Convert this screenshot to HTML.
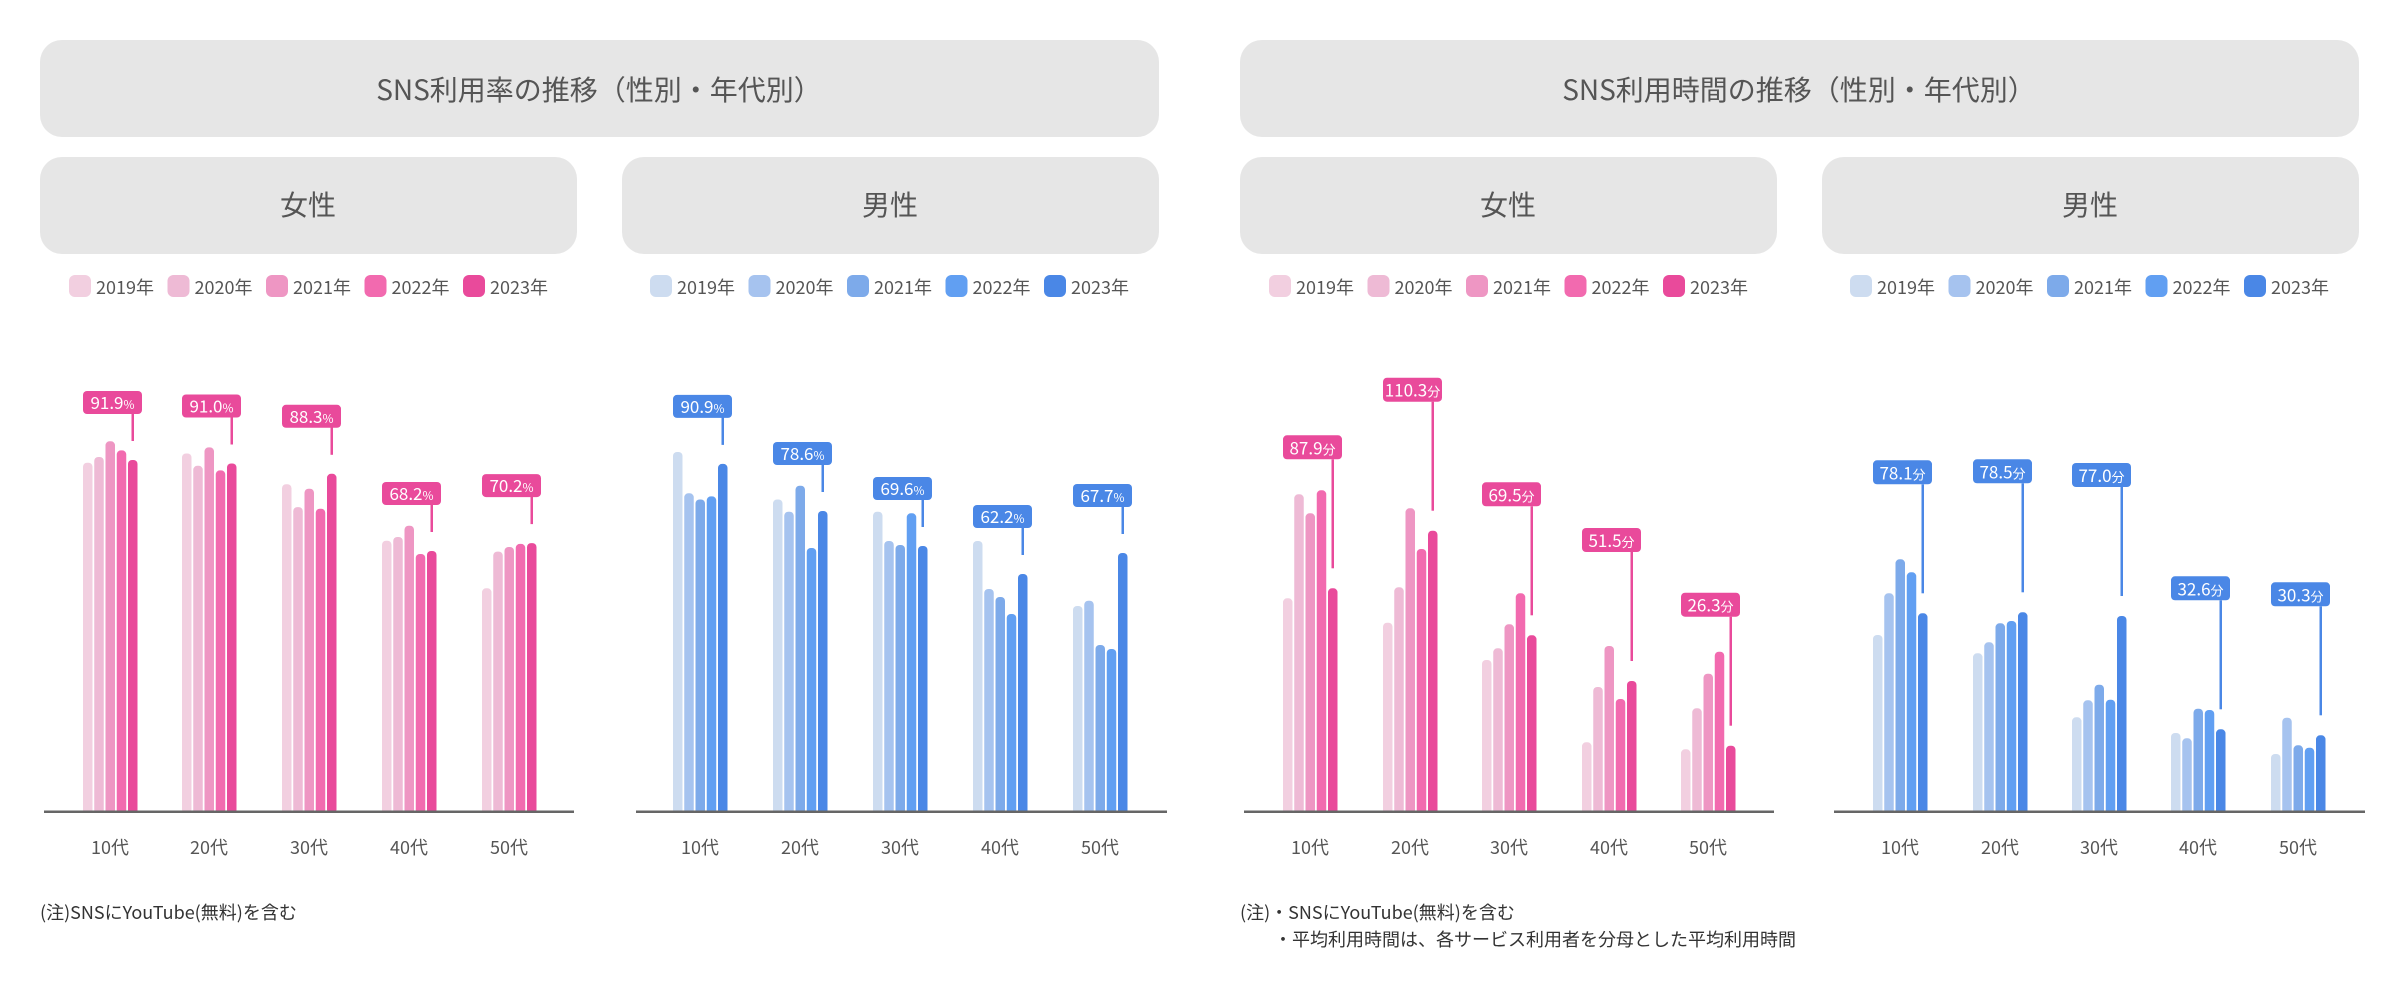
<!DOCTYPE html>
<html><head><meta charset="utf-8"><style>
html,body{margin:0;padding:0;background:#fff;width:2400px;height:1000px;overflow:hidden}
svg{display:block;font-family:"Noto Sans CJK JP","Liberation Sans",sans-serif}
</style></head><body>
<svg width="2400" height="1000" viewBox="0 0 2400 1000" xmlns="http://www.w3.org/2000/svg">
<g fill="#e6e6e6">
<rect x="40" y="40" width="1119" height="97" rx="22"/>
<rect x="1240" y="40" width="1119" height="97" rx="22"/>
<rect x="40" y="157" width="537" height="97" rx="22"/>
<rect x="622" y="157" width="537" height="97" rx="22"/>
<rect x="1240" y="157" width="537" height="97" rx="22"/>
<rect x="1822" y="157" width="537" height="97" rx="22"/>
</g>
<g fill="#555" font-size="28" text-anchor="middle">
<text x="599" y="100">SNS利用率の推移（性別・年代別）</text>
<text x="1799" y="100">SNS利用時間の推移（性別・年代別）</text>
<text x="308" y="215">女性</text>
<text x="890" y="215">男性</text>
<text x="1508" y="215">女性</text>
<text x="2090" y="215">男性</text>
</g>
<g font-size="18" fill="#555">
<g transform="translate(69,275)">
<rect x="0" width="22" height="22" rx="6" fill="#f2cfe0"/><text x="27" y="19">2019年</text>
<rect x="98.5" width="22" height="22" rx="6" fill="#eebad5"/><text x="125.5" y="19">2020年</text>
<rect x="197" width="22" height="22" rx="6" fill="#ee96c3"/><text x="224" y="19">2021年</text>
<rect x="295.5" width="22" height="22" rx="6" fill="#f26aaf"/><text x="322.5" y="19">2022年</text>
<rect x="394" width="22" height="22" rx="6" fill="#e94a9b"/><text x="421" y="19">2023年</text>
</g>
<g transform="translate(650,275)">
<rect x="0" width="22" height="22" rx="6" fill="#cddcf0"/><text x="27" y="19">2019年</text>
<rect x="98.5" width="22" height="22" rx="6" fill="#a6c3ef"/><text x="125.5" y="19">2020年</text>
<rect x="197" width="22" height="22" rx="6" fill="#7daaea"/><text x="224" y="19">2021年</text>
<rect x="295.5" width="22" height="22" rx="6" fill="#619ff2"/><text x="322.5" y="19">2022年</text>
<rect x="394" width="22" height="22" rx="6" fill="#4a87e6"/><text x="421" y="19">2023年</text>
</g>
<g transform="translate(1269,275)">
<rect x="0" width="22" height="22" rx="6" fill="#f2cfe0"/><text x="27" y="19">2019年</text>
<rect x="98.5" width="22" height="22" rx="6" fill="#eebad5"/><text x="125.5" y="19">2020年</text>
<rect x="197" width="22" height="22" rx="6" fill="#ee96c3"/><text x="224" y="19">2021年</text>
<rect x="295.5" width="22" height="22" rx="6" fill="#f26aaf"/><text x="322.5" y="19">2022年</text>
<rect x="394" width="22" height="22" rx="6" fill="#e94a9b"/><text x="421" y="19">2023年</text>
</g>
<g transform="translate(1850,275)">
<rect x="0" width="22" height="22" rx="6" fill="#cddcf0"/><text x="27" y="19">2019年</text>
<rect x="98.5" width="22" height="22" rx="6" fill="#a6c3ef"/><text x="125.5" y="19">2020年</text>
<rect x="197" width="22" height="22" rx="6" fill="#7daaea"/><text x="224" y="19">2021年</text>
<rect x="295.5" width="22" height="22" rx="6" fill="#619ff2"/><text x="322.5" y="19">2022年</text>
<rect x="394" width="22" height="22" rx="6" fill="#4a87e6"/><text x="421" y="19">2023年</text>
</g>
</g>

<g>
<g transform="translate(83,0)"><rect x="0" y="462.7" width="9.5" height="360" rx="4" fill="#f2cfe0"/><rect x="11.25" y="457" width="9.5" height="360" rx="4" fill="#eebad5"/><rect x="22.5" y="441.3" width="9.5" height="380" rx="4" fill="#ee96c3"/><rect x="33.75" y="450.4" width="9.5" height="370" rx="4" fill="#f26aaf"/><rect x="45" y="460" width="9.5" height="360" rx="4" fill="#e94a9b"/></g>
<g transform="translate(182,0)"><rect x="0" y="453.5" width="9.5" height="360" rx="4" fill="#f2cfe0"/><rect x="11.25" y="465.8" width="9.5" height="360" rx="4" fill="#eebad5"/><rect x="22.5" y="447.4" width="9.5" height="370" rx="4" fill="#ee96c3"/><rect x="33.75" y="470.4" width="9.5" height="350" rx="4" fill="#f26aaf"/><rect x="45" y="463.5" width="9.5" height="360" rx="4" fill="#e94a9b"/></g>
<g transform="translate(282,0)"><rect x="0" y="484.2" width="9.5" height="340" rx="4" fill="#f2cfe0"/><rect x="11.25" y="507.1" width="9.5" height="310" rx="4" fill="#eebad5"/><rect x="22.5" y="488.7" width="9.5" height="330" rx="4" fill="#ee96c3"/><rect x="33.75" y="508.7" width="9.5" height="310" rx="4" fill="#f26aaf"/><rect x="45" y="473.8" width="9.5" height="340" rx="4" fill="#e94a9b"/></g>
<g transform="translate(382,0)"><rect x="0" y="540.7" width="9.5" height="280" rx="4" fill="#f2cfe0"/><rect x="11.25" y="537" width="9.5" height="280" rx="4" fill="#eebad5"/><rect x="22.5" y="525.7" width="9.5" height="290" rx="4" fill="#ee96c3"/><rect x="33.75" y="554" width="9.5" height="260" rx="4" fill="#f26aaf"/><rect x="45" y="551" width="9.5" height="265" rx="4" fill="#e94a9b"/></g>
<g transform="translate(482,0)"><rect x="0" y="588.3" width="9.5" height="230" rx="4" fill="#f2cfe0"/><rect x="11.25" y="551.6" width="9.5" height="265" rx="4" fill="#eebad5"/><rect x="22.5" y="547" width="9.5" height="270" rx="4" fill="#ee96c3"/><rect x="33.75" y="543.9" width="9.5" height="275" rx="4" fill="#f26aaf"/><rect x="45" y="543.1" width="9.5" height="275" rx="4" fill="#e94a9b"/></g>
</g>
<g>
<g transform="translate(673,0)"><rect x="0" y="452" width="9.5" height="365" rx="4" fill="#cddcf0"/><rect x="11.25" y="493.3" width="9.5" height="325" rx="4" fill="#a6c3ef"/><rect x="22.5" y="499.5" width="9.5" height="320" rx="4" fill="#7daaea"/><rect x="33.75" y="496.4" width="9.5" height="320" rx="4" fill="#619ff2"/><rect x="45" y="463.9" width="9.5" height="355" rx="4" fill="#4a87e6"/></g>
<g transform="translate(773,0)"><rect x="0" y="499.5" width="9.5" height="320" rx="4" fill="#cddcf0"/><rect x="11.25" y="511.7" width="9.5" height="305" rx="4" fill="#a6c3ef"/><rect x="22.5" y="485.7" width="9.5" height="330" rx="4" fill="#7daaea"/><rect x="33.75" y="548" width="9.5" height="270" rx="4" fill="#619ff2"/><rect x="45" y="511" width="9.5" height="305" rx="4" fill="#4a87e6"/></g>
<g transform="translate(873,0)"><rect x="0" y="511.7" width="9.5" height="305" rx="4" fill="#cddcf0"/><rect x="11.25" y="541" width="9.5" height="275" rx="4" fill="#a6c3ef"/><rect x="22.5" y="545" width="9.5" height="275" rx="4" fill="#7daaea"/><rect x="33.75" y="513.3" width="9.5" height="305" rx="4" fill="#619ff2"/><rect x="45" y="546" width="9.5" height="275" rx="4" fill="#4a87e6"/></g>
<g transform="translate(973,0)"><rect x="0" y="541" width="9.5" height="275" rx="4" fill="#cddcf0"/><rect x="11.25" y="589" width="9.5" height="230" rx="4" fill="#a6c3ef"/><rect x="22.5" y="597" width="9.5" height="220" rx="4" fill="#7daaea"/><rect x="33.75" y="614" width="9.5" height="205" rx="4" fill="#619ff2"/><rect x="45" y="574" width="9.5" height="245" rx="4" fill="#4a87e6"/></g>
<g transform="translate(1073,0)"><rect x="0" y="606" width="9.5" height="210" rx="4" fill="#cddcf0"/><rect x="11.25" y="600.7" width="9.5" height="215" rx="4" fill="#a6c3ef"/><rect x="22.5" y="645" width="9.5" height="175" rx="4" fill="#7daaea"/><rect x="33.75" y="649" width="9.5" height="170" rx="4" fill="#619ff2"/><rect x="45" y="553" width="9.5" height="265" rx="4" fill="#4a87e6"/></g>
</g>
<g>
<g transform="translate(1283,0)"><rect x="0" y="598.3" width="9.5" height="220" rx="4" fill="#f2cfe0"/><rect x="11.25" y="494.3" width="9.5" height="325" rx="4" fill="#eebad5"/><rect x="22.5" y="513.3" width="9.5" height="305" rx="4" fill="#ee96c3"/><rect x="33.75" y="490.3" width="9.5" height="330" rx="4" fill="#f26aaf"/><rect x="45" y="588.3" width="9.5" height="230" rx="4" fill="#e94a9b"/></g>
<g transform="translate(1383,0)"><rect x="0" y="622.7" width="9.5" height="195" rx="4" fill="#f2cfe0"/><rect x="11.25" y="587.3" width="9.5" height="230" rx="4" fill="#eebad5"/><rect x="22.5" y="508.3" width="9.5" height="310" rx="4" fill="#ee96c3"/><rect x="33.75" y="549" width="9.5" height="270" rx="4" fill="#f26aaf"/><rect x="45" y="530.7" width="9.5" height="290" rx="4" fill="#e94a9b"/></g>
<g transform="translate(1482,0)"><rect x="0" y="660" width="9.5" height="160" rx="4" fill="#f2cfe0"/><rect x="11.25" y="648.3" width="9.5" height="170" rx="4" fill="#eebad5"/><rect x="22.5" y="624.3" width="9.5" height="195" rx="4" fill="#ee96c3"/><rect x="33.75" y="593.3" width="9.5" height="225" rx="4" fill="#f26aaf"/><rect x="45" y="635.3" width="9.5" height="185" rx="4" fill="#e94a9b"/></g>
<g transform="translate(1582,0)"><rect x="0" y="742.3" width="9.5" height="75" rx="4" fill="#f2cfe0"/><rect x="11.25" y="687" width="9.5" height="130" rx="4" fill="#eebad5"/><rect x="22.5" y="646" width="9.5" height="170" rx="4" fill="#ee96c3"/><rect x="33.75" y="699" width="9.5" height="120" rx="4" fill="#f26aaf"/><rect x="45" y="681" width="9.5" height="135" rx="4" fill="#e94a9b"/></g>
<g transform="translate(1681,0)"><rect x="0" y="749.3" width="9.5" height="70" rx="4" fill="#f2cfe0"/><rect x="11.25" y="708.3" width="9.5" height="110" rx="4" fill="#eebad5"/><rect x="22.5" y="673.7" width="9.5" height="145" rx="4" fill="#ee96c3"/><rect x="33.75" y="651.7" width="9.5" height="165" rx="4" fill="#f26aaf"/><rect x="45" y="745.7" width="9.5" height="72" rx="4" fill="#e94a9b"/></g>
</g>
<g>
<g transform="translate(1873,0)"><rect x="0" y="635" width="9.5" height="185" rx="4" fill="#cddcf0"/><rect x="11.25" y="593.3" width="9.5" height="225" rx="4" fill="#a6c3ef"/><rect x="22.5" y="559.3" width="9.5" height="260" rx="4" fill="#7daaea"/><rect x="33.75" y="572.3" width="9.5" height="245" rx="4" fill="#619ff2"/><rect x="45" y="613.3" width="9.5" height="205" rx="4" fill="#4a87e6"/></g>
<g transform="translate(1973,0)"><rect x="0" y="653.3" width="9.5" height="165" rx="4" fill="#cddcf0"/><rect x="11.25" y="642.3" width="9.5" height="175" rx="4" fill="#a6c3ef"/><rect x="22.5" y="623.3" width="9.5" height="195" rx="4" fill="#7daaea"/><rect x="33.75" y="621" width="9.5" height="198" rx="4" fill="#619ff2"/><rect x="45" y="612.3" width="9.5" height="206" rx="4" fill="#4a87e6"/></g>
<g transform="translate(2072,0)"><rect x="0" y="717.3" width="9.5" height="100" rx="4" fill="#cddcf0"/><rect x="11.25" y="700.3" width="9.5" height="118" rx="4" fill="#a6c3ef"/><rect x="22.5" y="684.7" width="9.5" height="133" rx="4" fill="#7daaea"/><rect x="33.75" y="699.7" width="9.5" height="118" rx="4" fill="#619ff2"/><rect x="45" y="616" width="9.5" height="202" rx="4" fill="#4a87e6"/></g>
<g transform="translate(2171,0)"><rect x="0" y="733" width="9.5" height="85" rx="4" fill="#cddcf0"/><rect x="11.25" y="738.3" width="9.5" height="80" rx="4" fill="#a6c3ef"/><rect x="22.5" y="708.7" width="9.5" height="110" rx="4" fill="#7daaea"/><rect x="33.75" y="710" width="9.5" height="108" rx="4" fill="#619ff2"/><rect x="45" y="729.3" width="9.5" height="88" rx="4" fill="#4a87e6"/></g>
<g transform="translate(2271,0)"><rect x="0" y="754" width="9.5" height="64" rx="4" fill="#cddcf0"/><rect x="11.25" y="717.7" width="9.5" height="100" rx="4" fill="#a6c3ef"/><rect x="22.5" y="745.3" width="9.5" height="72" rx="4" fill="#7daaea"/><rect x="33.75" y="747.7" width="9.5" height="70" rx="4" fill="#619ff2"/><rect x="45" y="735.3" width="9.5" height="82" rx="4" fill="#4a87e6"/></g>
</g>

<rect x="0" y="812" width="2400" height="30" fill="#fff"/>
<g fill="#666">
<rect x="44" y="810.5" width="530" height="2.5"/>
<rect x="636" y="810.5" width="531" height="2.5"/>
<rect x="1244" y="810.5" width="530" height="2.5"/>
<rect x="1834" y="810.5" width="531" height="2.5"/>
</g>
<g font-size="18" fill="#555" text-anchor="middle">
<text x="110" y="854">10代</text><text x="209" y="854">20代</text><text x="309" y="854">30代</text><text x="409" y="854">40代</text><text x="509" y="854">50代</text>
<text x="700" y="854">10代</text><text x="800" y="854">20代</text><text x="900" y="854">30代</text><text x="1000" y="854">40代</text><text x="1100" y="854">50代</text>
<text x="1310" y="854">10代</text><text x="1410" y="854">20代</text><text x="1509" y="854">30代</text><text x="1609" y="854">40代</text><text x="1708" y="854">50代</text>
<text x="1900" y="854">10代</text><text x="2000" y="854">20代</text><text x="2099" y="854">30代</text><text x="2198" y="854">40代</text><text x="2298" y="854">50代</text>
</g>

<g fill="#e94a9b">
<g transform="translate(83,460)"><rect x="0" y="-69" width="59" height="23" rx="4"/><rect x="48.5" y="-47" width="2.5" height="28"/></g>
<g transform="translate(182,463.5)"><rect x="0" y="-69" width="59" height="23" rx="4"/><rect x="48.5" y="-47" width="2.5" height="28"/></g>
<g transform="translate(282,473.8)"><rect x="0" y="-69" width="59" height="23" rx="4"/><rect x="48.5" y="-47" width="2.5" height="28"/></g>
<g transform="translate(382,551)"><rect x="0" y="-69" width="59" height="23" rx="4"/><rect x="48.5" y="-47" width="2.5" height="28"/></g>
<g transform="translate(482,543.1)"><rect x="0" y="-69" width="59" height="23" rx="4"/><rect x="48.5" y="-47" width="2.5" height="28"/></g>
</g>
<g fill="#4a87e6">
<g transform="translate(673,463.9)"><rect x="0" y="-69" width="59" height="23" rx="4"/><rect x="48.5" y="-47" width="2.5" height="28"/></g>
<g transform="translate(773,511)"><rect x="0" y="-69" width="59" height="23" rx="4"/><rect x="48.5" y="-47" width="2.5" height="28"/></g>
<g transform="translate(873,546)"><rect x="0" y="-69" width="59" height="23" rx="4"/><rect x="48.5" y="-47" width="2.5" height="28"/></g>
<g transform="translate(973,574)"><rect x="0" y="-69" width="59" height="23" rx="4"/><rect x="48.5" y="-47" width="2.5" height="28"/></g>
<g transform="translate(1073,553)"><rect x="0" y="-69" width="59" height="23" rx="4"/><rect x="48.5" y="-47" width="2.5" height="28"/></g>
</g>
<g fill="#fff" font-size="17" text-anchor="middle">
<text x="112.5" y="409">91.9<tspan font-size="12">%</tspan></text>
<text x="211.5" y="412.5">91.0<tspan font-size="12">%</tspan></text>
<text x="311.5" y="422.8">88.3<tspan font-size="12">%</tspan></text>
<text x="411.5" y="500">68.2<tspan font-size="12">%</tspan></text>
<text x="511.5" y="492.1">70.2<tspan font-size="12">%</tspan></text>
<text x="702.5" y="412.9">90.9<tspan font-size="12">%</tspan></text>
<text x="802.5" y="460">78.6<tspan font-size="12">%</tspan></text>
<text x="902.5" y="495">69.6<tspan font-size="12">%</tspan></text>
<text x="1002.5" y="523">62.2<tspan font-size="12">%</tspan></text>
<text x="1102.5" y="502">67.7<tspan font-size="12">%</tspan></text>
</g>

<g fill="#e94a9b">
<g transform="translate(1283,588.3)"><rect x="0" y="-153" width="59" height="24" rx="4"/><rect x="48.5" y="-129" width="2.5" height="109"/></g>
<g transform="translate(1383,530.7)"><rect x="0" y="-153" width="59" height="24" rx="4"/><rect x="48.5" y="-129" width="2.5" height="109"/></g>
<g transform="translate(1482,635.3)"><rect x="0" y="-153" width="59" height="24" rx="4"/><rect x="48.5" y="-129" width="2.5" height="109"/></g>
<g transform="translate(1582,681)"><rect x="0" y="-153" width="59" height="24" rx="4"/><rect x="48.5" y="-129" width="2.5" height="109"/></g>
<g transform="translate(1681,745.7)"><rect x="0" y="-153" width="59" height="24" rx="4"/><rect x="48.5" y="-129" width="2.5" height="109"/></g>
</g>
<g fill="#4a87e6">
<g transform="translate(1873,613.3)"><rect x="0" y="-153" width="59" height="24" rx="4"/><rect x="48.5" y="-129" width="2.5" height="109"/></g>
<g transform="translate(1973,612.3)"><rect x="0" y="-153" width="59" height="24" rx="4"/><rect x="48.5" y="-129" width="2.5" height="109"/></g>
<g transform="translate(2072,616)"><rect x="0" y="-153" width="59" height="24" rx="4"/><rect x="48.5" y="-129" width="2.5" height="109"/></g>
<g transform="translate(2171,729.3)"><rect x="0" y="-153" width="59" height="24" rx="4"/><rect x="48.5" y="-129" width="2.5" height="109"/></g>
<g transform="translate(2271,735.3)"><rect x="0" y="-153" width="59" height="24" rx="4"/><rect x="48.5" y="-129" width="2.5" height="109"/></g>
</g>
<g fill="#fff" font-size="17" text-anchor="middle">
<text x="1312.5" y="454.3">87.9<tspan font-size="13">分</tspan></text>
<text x="1412.5" y="396.7">110.3<tspan font-size="13">分</tspan></text>
<text x="1511.5" y="501.3">69.5<tspan font-size="13">分</tspan></text>
<text x="1611.5" y="547">51.5<tspan font-size="13">分</tspan></text>
<text x="1710.5" y="611.7">26.3<tspan font-size="13">分</tspan></text>
<text x="1902.5" y="479.3">78.1<tspan font-size="13">分</tspan></text>
<text x="2002.5" y="478.3">78.5<tspan font-size="13">分</tspan></text>
<text x="2101.5" y="482">77.0<tspan font-size="13">分</tspan></text>
<text x="2200.5" y="595.3">32.6<tspan font-size="13">分</tspan></text>
<text x="2300.5" y="601.3">30.3<tspan font-size="13">分</tspan></text>
</g>

<g fill="#333" font-size="18">
<text x="40" y="919">(注)SNSにYouTube(無料)を含む</text>
<text x="1240" y="919">(注)・SNSにYouTube(無料)を含む</text>
<text x="1274" y="946">・平均利用時間は、各サービス利用者を分母とした平均利用時間</text>
</g>
</svg>
</body></html>
